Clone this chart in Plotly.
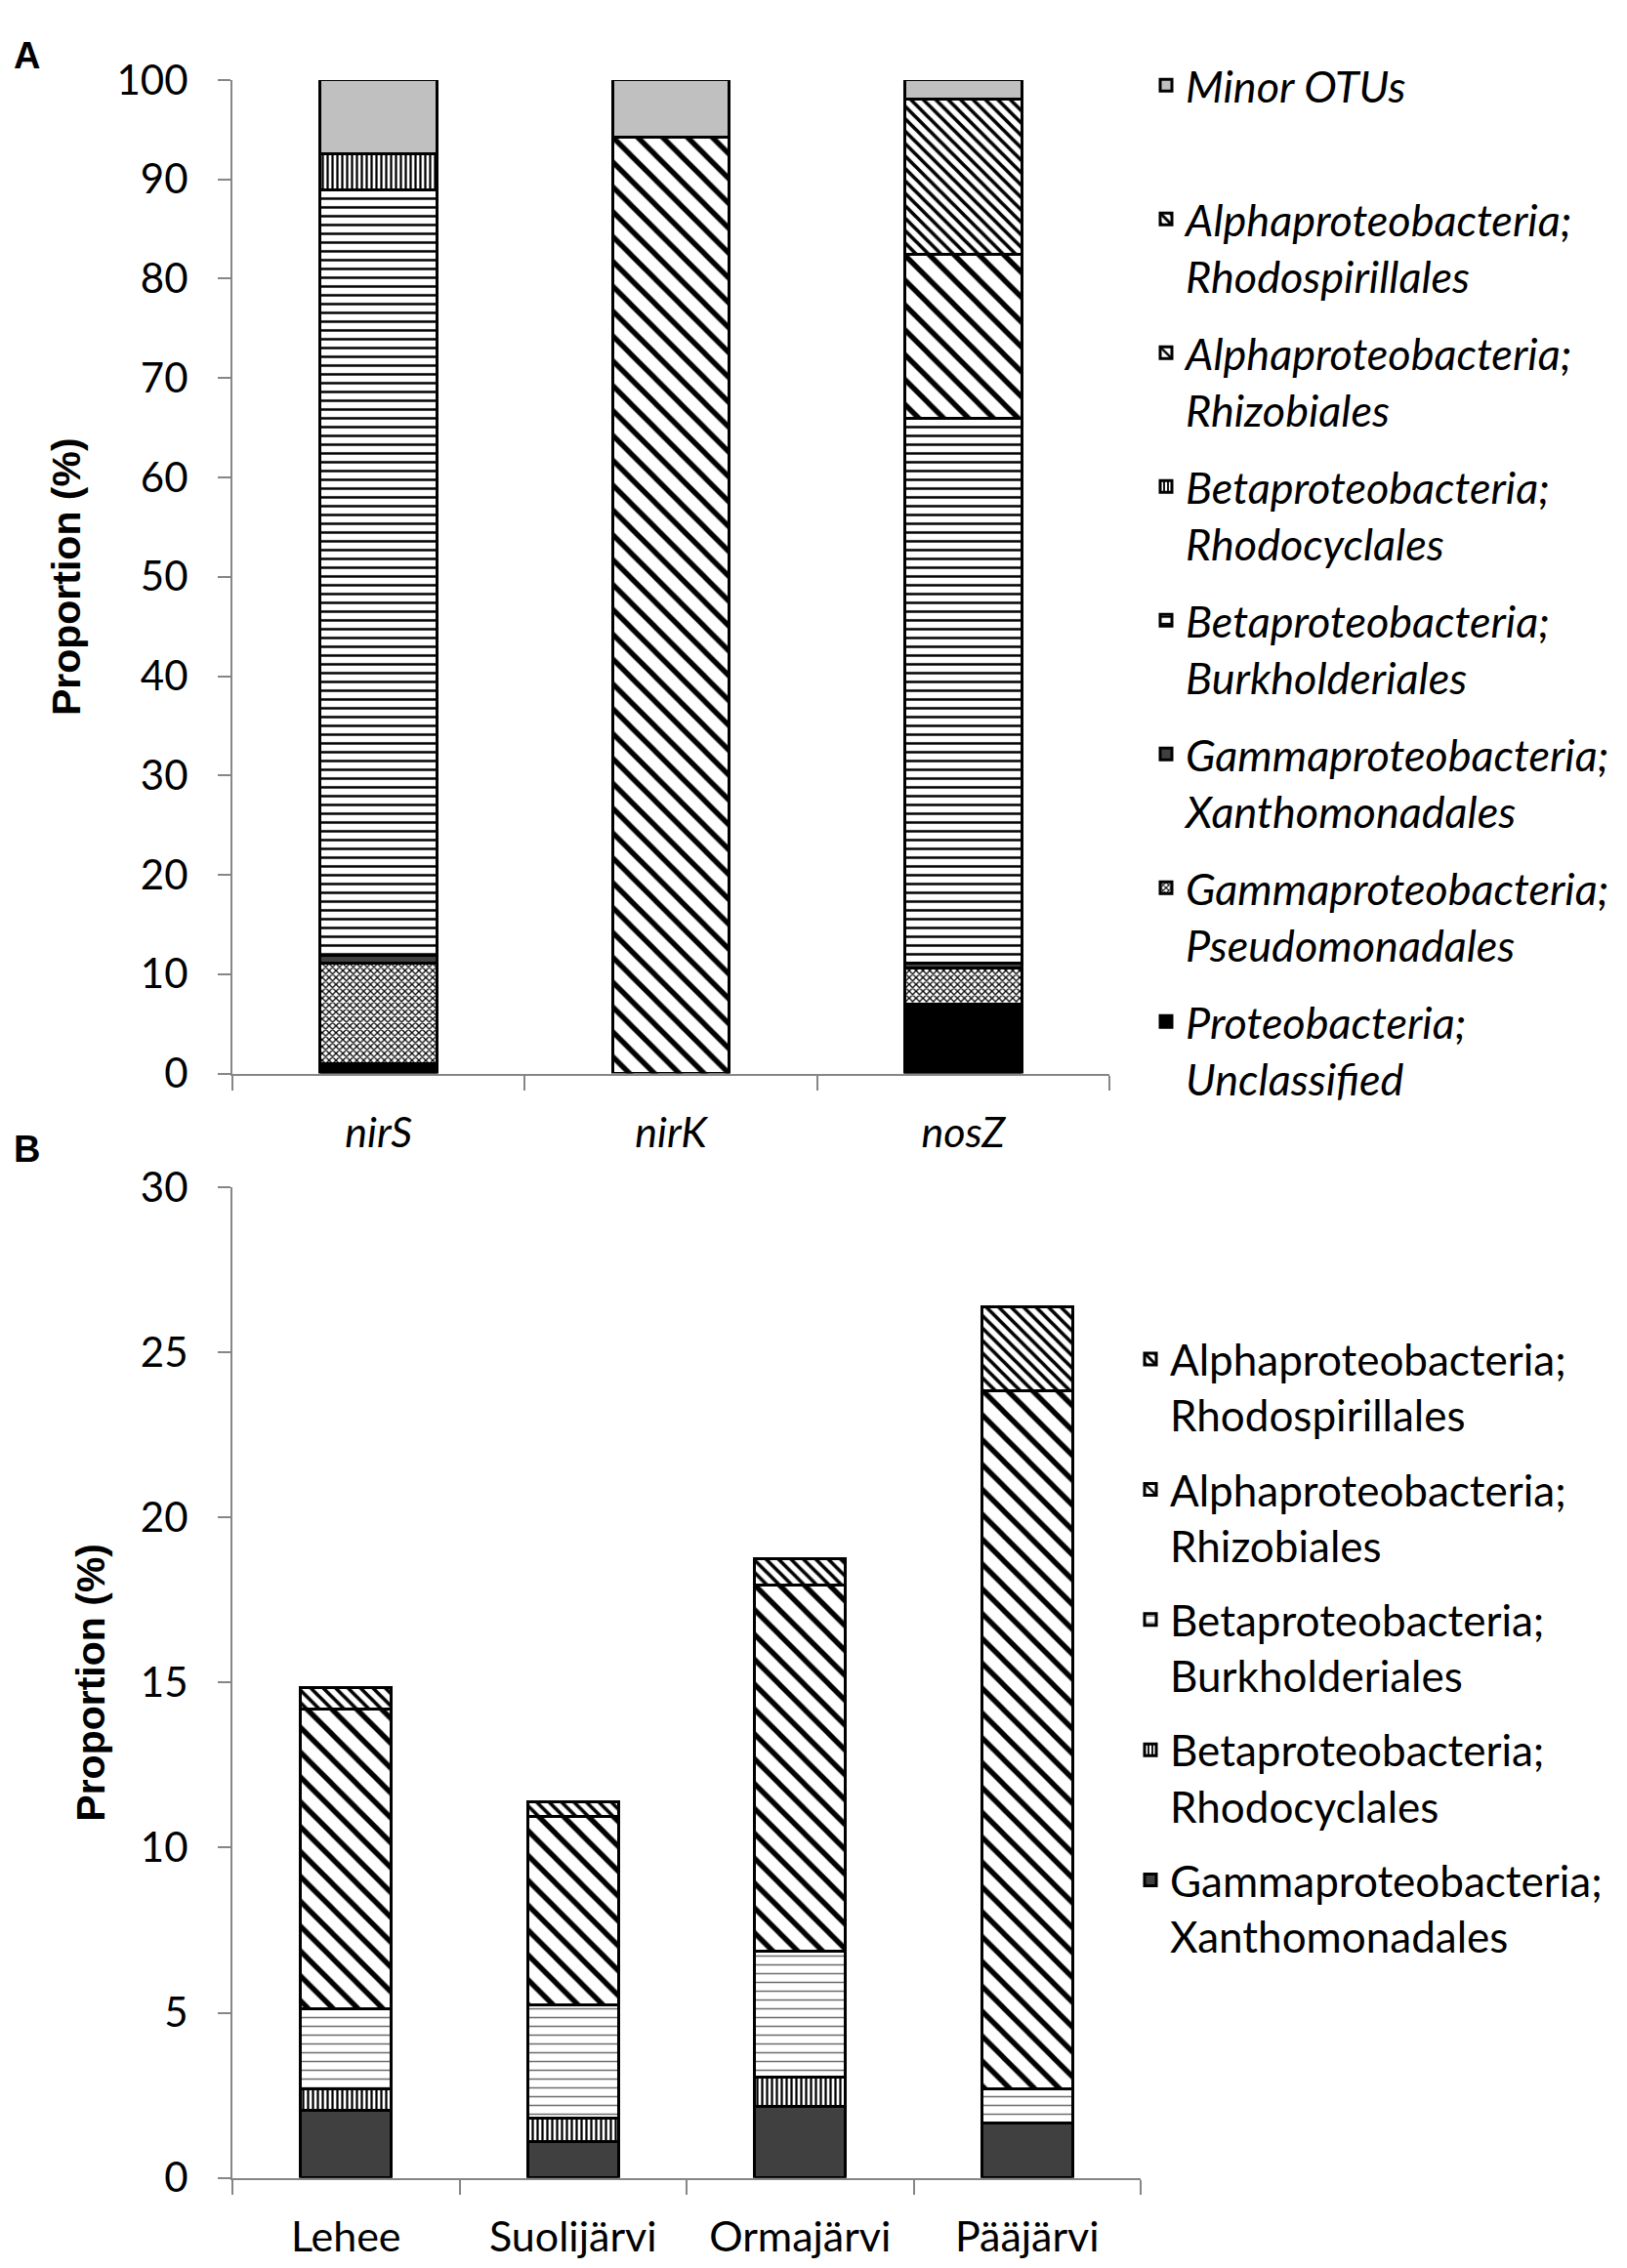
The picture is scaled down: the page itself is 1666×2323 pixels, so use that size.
import plotly.graph_objects as go

# panel A: denitrification genes
genes = ["nirS", "nirK", "nosZ"]
a_unclassified = [1.0, None, 7.0]
a_pseudomonadales = [10.1, None, 3.6]
a_xanthomonadales = [0.8, None, 0.5]
a_burkholderiales = [77.0, None, 54.8]
a_rhodocyclales = [3.7, None, None]
a_rhizobiales = [None, 94.2, 16.6]
a_rhodospirillales = [None, None, 15.6]
a_minor = [7.4, 5.8, 1.9]

# panel B: lakes
lakes = ["Lehee", "Suolijärvi", "Ormajärvi", "Pääjärvi"]
b_xanthomonadales = [2.06, 1.10, 2.17, 1.66]
b_rhodocyclales = [0.64, 0.71, 0.88, None]
b_burkholderiales = [2.43, 3.43, 3.80, 1.04]
b_rhizobiales = [9.06, 5.70, 11.10, 21.13]
b_rhodospirillales = [0.67, 0.45, 0.80, 2.55]

y_ticks_a = [0, 10, 20, 30, 40, 50, 60, 70, 80, 90, 100]
y_ticks_b = [0, 5, 10, 15, 20, 25, 30]

FONT = "Lato"
AXIS_GRAY = "#868686"


def style(kind, panel="A"):
    line = dict(color="black", width=3)
    if kind == "solid_black":
        return dict(color="black", line=line)
    if kind == "solid_dark":
        return dict(color="#404040", line=line)
    if kind == "solid_light":
        return dict(color="#c0c0c0", line=line)
    pats = {
        "cross": dict(shape="x", size=5, solidity=0.45, fgcolor="#000000"),
        "hlines": dict(shape="-", size=9, solidity=0.28 if panel == "A" else 0.17,
                       fgcolor="#000000" if panel == "A" else "#6e6e6e"),
        "vlines": dict(shape="|", size=5, solidity=0.45, fgcolor="#000000"),
        "diag": dict(shape="\\", size=18, solidity=0.3, fgcolor="#000000"),
        "diag_dense": dict(shape="\\", size=9, solidity=0.4, fgcolor="#000000"),
    }
    p = pats[kind]
    p["bgcolor"] = "white"
    p["fgopacity"] = 1
    return dict(color="white", pattern=p, line=line)


fig = go.Figure()

a_series = [
    ("Proteobacteria;<br>Unclassified", a_unclassified, "solid_black"),
    ("Gammaproteobacteria;<br>Pseudomonadales", a_pseudomonadales, "cross"),
    ("Gammaproteobacteria;<br>Xanthomonadales", a_xanthomonadales, "solid_dark"),
    ("Betaproteobacteria;<br>Burkholderiales", a_burkholderiales, "hlines"),
    ("Betaproteobacteria;<br>Rhodocyclales", a_rhodocyclales, "vlines"),
    ("Alphaproteobacteria;<br>Rhizobiales", a_rhizobiales, "diag"),
    ("Alphaproteobacteria;<br>Rhodospirillales", a_rhodospirillales, "diag_dense"),
    ("Minor OTUs<br> ", a_minor, "solid_light"),
]
for i, (name, vals, kind) in enumerate(a_series):
    fig.add_trace(go.Bar(x=genes, y=vals, name=name, marker=style(kind, "A"),
                         xaxis="x", yaxis="y", legend="legend",
                         legendgroup="a%d" % i, legendrank=100 - i))

b_series = [
    ("Gammaproteobacteria;<br>Xanthomonadales", b_xanthomonadales, "solid_dark"),
    ("Betaproteobacteria;<br>Rhodocyclales", b_rhodocyclales, "vlines"),
    ("Betaproteobacteria;<br>Burkholderiales", b_burkholderiales, "hlines"),
    ("Alphaproteobacteria;<br>Rhizobiales", b_rhizobiales, "diag"),
    ("Alphaproteobacteria;<br>Rhodospirillales", b_rhodospirillales, "diag_dense"),
]
for i, (name, vals, kind) in enumerate(b_series):
    fig.add_trace(go.Bar(x=lakes, y=vals, name=name, marker=style(kind, "B"),
                         xaxis="x2", yaxis="y2", legend="legend2",
                         legendgroup="b%d" % i, legendrank=100 - i))

W, H = 1666, 2323

yaxis_common = dict(showgrid=False, zeroline=False, showline=True, linecolor=AXIS_GRAY,
                    linewidth=2, ticks="outside", ticklen=13, tickcolor=AXIS_GRAY,
                    tickwidth=2, ticklabelstandoff=22,
                    tickfont=dict(family=FONT, size=42, color="black"),
                    title_font=dict(family="Liberation Sans", size=41, color="black",
                                    weight="bold"),
                    title_standoff=24)
xaxis_common = dict(showgrid=False, zeroline=False, showline=True, linecolor=AXIS_GRAY,
                    linewidth=2, ticks="outside", tickson="boundaries", ticklen=15,
                    tickcolor=AXIS_GRAY, tickwidth=2, ticklabelstandoff=22)

legend_common = dict(xanchor="left", yanchor="top", traceorder="grouped",
                     valign="top", bgcolor="rgba(0,0,0,0)", itemwidth=30)

fig.update_layout(
    width=W, height=H,
    margin=dict(l=0, r=0, t=0, b=0),
    paper_bgcolor="white", plot_bgcolor="white",
    barmode="stack", bargap=0.6,
    font=dict(family=FONT, color="black"),
    xaxis=dict(domain=[230 / W, 1128 / W], anchor="y",
               tickfont=dict(family=FONT, size=43, color="black", style="italic"),
               **xaxis_common),
    yaxis=dict(domain=[1 - 1089 / H, 1 - 49 / H], anchor="x", range=[0, 100],
               tickvals=y_ticks_a, title_text="Proportion (%)", **yaxis_common),
    xaxis2=dict(domain=[230 / W, 1160 / W], anchor="y2",
                tickfont=dict(family=FONT, size=43, color="black"),
                **xaxis_common),
    yaxis2=dict(domain=[1 - 2245 / H, 1 - 1208 / H], anchor="x2", range=[0, 30],
                tickvals=y_ticks_b, title_text="Proportion (%)", **yaxis_common),
    legend=dict(x=1166 / W, y=1 - 18 / H, tracegroupgap=17,
                font=dict(family=FONT, size=45, color="black", style="italic"),
                **legend_common),
    legend2=dict(x=1150 / W, y=1 - 1352 / H, tracegroupgap=16,
                 font=dict(family=FONT, size=44, color="black"),
                 **legend_common),
    annotations=[
        dict(text="<b>A</b>", x=4 / W, y=1, xref="paper", yref="paper",
             xanchor="left", yanchor="top", showarrow=False,
             font=dict(family="Liberation Sans", size=38, color="black")),
        dict(text="<b>B</b>", x=4 / W, y=1 - 1145 / H, xref="paper", yref="paper",
             xanchor="left", yanchor="top", showarrow=False,
             font=dict(family="Liberation Sans", size=38, color="black")),
    ],
)

fig.write_html("out.html")
